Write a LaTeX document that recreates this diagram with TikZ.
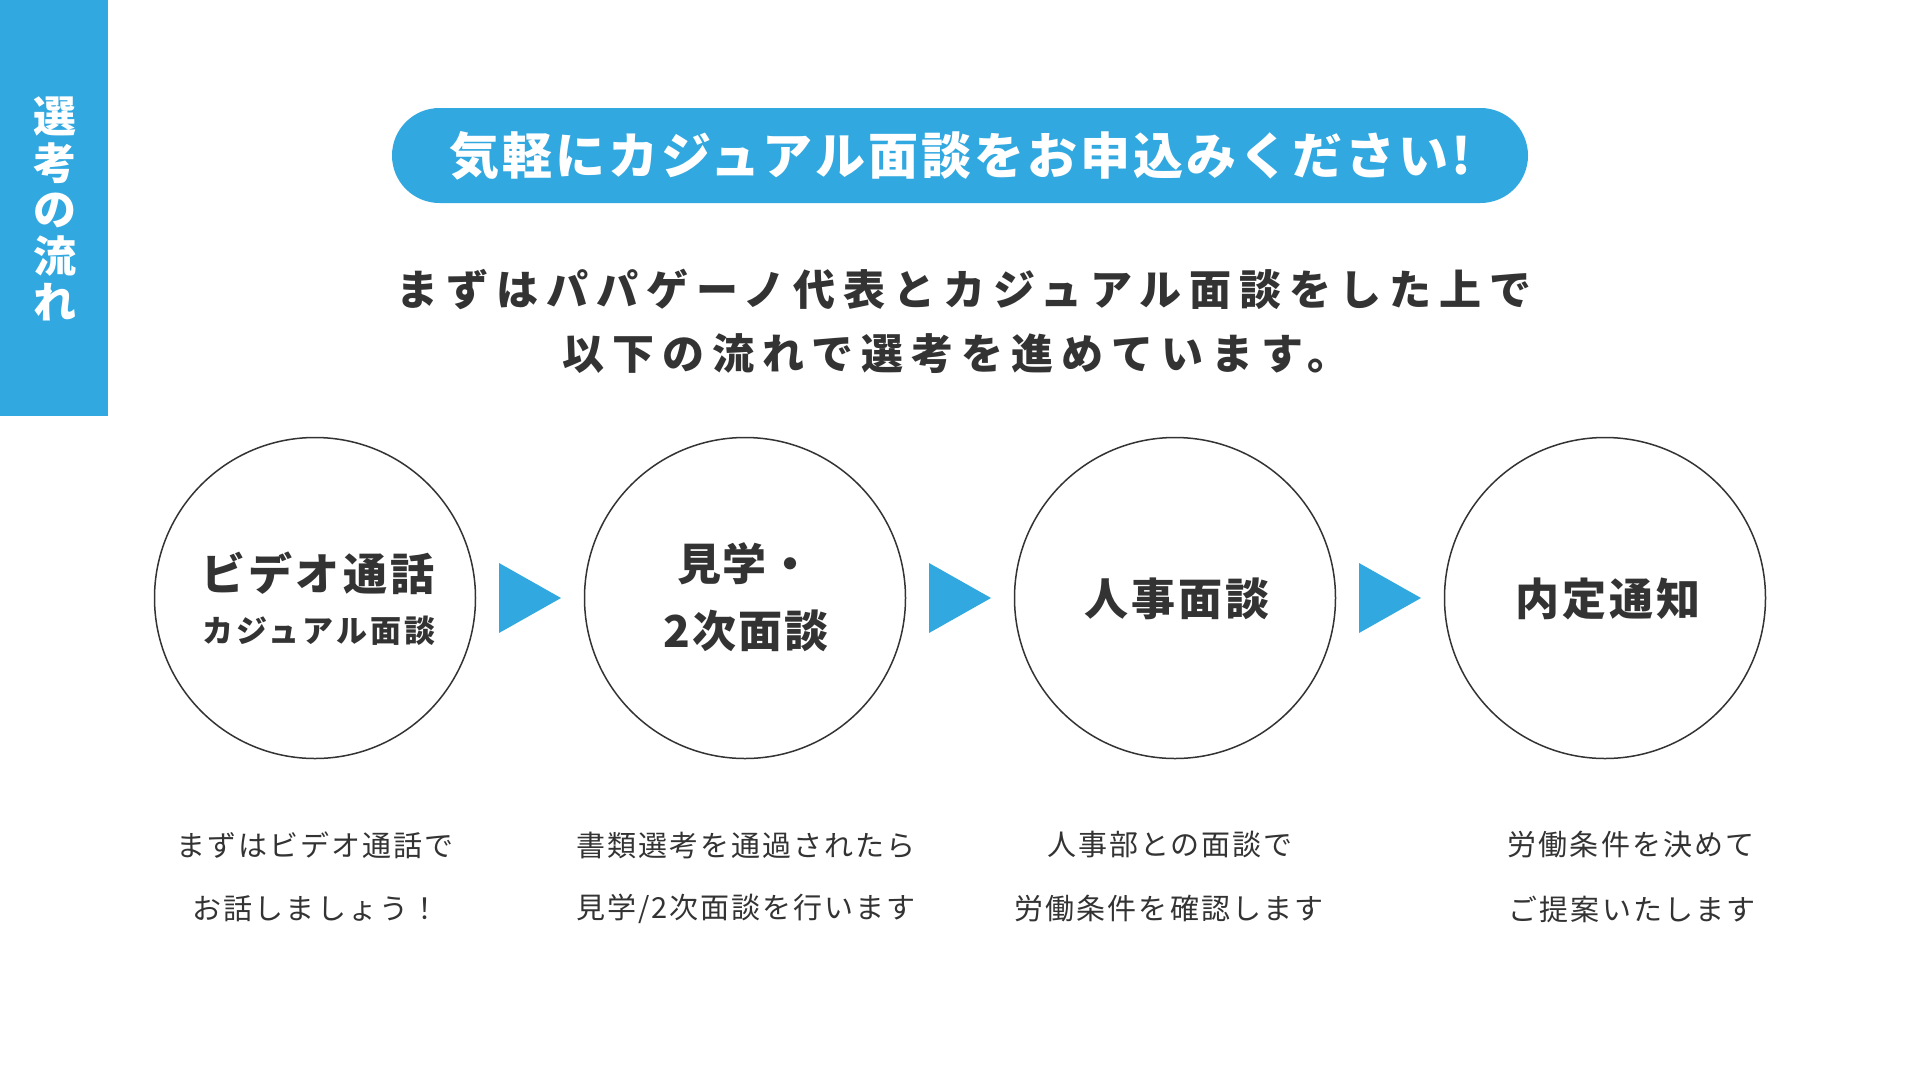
\documentclass[tikz,border=0pt]{standalone}
\usepackage{fontspec}
\setmainfont{Noto Sans CJK JP}
\newfontfamily\jpTitle[LetterSpace=6]{Noto Sans CJK JP}
\newfontfamily\jpSub[LetterSpace=19]{Noto Sans CJK JP}
\newfontfamily\jpCircA[LetterSpace=7]{Noto Sans CJK JP}
\newfontfamily\jpCircS[LetterSpace=10]{Noto Sans CJK JP}
\newfontfamily\jpCircB[LetterSpace=4]{Noto Sans CJK JP}
\newfontfamily\jpBody[LetterSpace=7]{Noto Sans CJK JP}
\definecolor{brand}{HTML}{31A8E0}
\definecolor{ink}{HTML}{333333}
\tikzset{
  x=1pt, y=-1pt,
  stepcircle/.style={circle, draw=ink, line width=1.5pt, minimum size=321pt, inner sep=0pt, align=center, text=ink},
  steplabel/.style={text=ink, inner sep=0pt, font=\jpCircA\bfseries\fontsize{44}{46}\selectfont},
  flowtri/.style={fill=brand, draw=none},
  bodytext/.style={text=ink, inner sep=0pt, anchor=center, font=\jpBody\fontsize{29}{32}\selectfont},
  subtext/.style={text=ink, inner sep=0pt, anchor=center, font=\jpSub\bfseries\fontsize{42}{45}\selectfont},
}
\begin{document}
\begin{tikzpicture}
\useasboundingbox (0,0) rectangle (1920,1080);
\fill[white] (0,0) rectangle (1920,1080);
% side bar
\fill[brand] (0,0) rectangle (108,416);
\node[text=white, align=center, inner sep=0pt, font=\bfseries\fontsize{43}{46.4}\selectfont] (bar) at (55,209) {選\\考\\の\\流\\れ};
% title pill
\fill[brand, rounded corners=47.5pt] (392,108) rectangle (1528,203);
\node[text=white, inner sep=0pt, font=\jpTitle\bfseries\fontsize{50}{54}\selectfont] (title) at (960,156) {気軽にカジュアル面談をお申込みください!};
% subtitle
\node[subtext] (sub1) at (964,289) {まずはパパゲーノ代表とカジュアル面談をした上で};
\node[subtext] (sub2) at (956,354) {以下の流れで選考を進めています。};
% circles
\node[stepcircle] (c1) at (315,598) {};
\node[steplabel] (c1a) at (318,573) {ビデオ通話};
\node[text=ink, inner sep=0pt, font=\jpCircS\bfseries\fontsize{31}{33}\selectfont] (c1b) at (319,631) {カジュアル面談};
\node[stepcircle] (c2) at (745,598) {};
\node[text=ink, inner sep=0pt, font=\jpCircB\bfseries\fontsize{44}{46}\selectfont] (c2a) at (745,564) {見学・};
\node[text=ink, inner sep=0pt, font=\jpCircB\bfseries\fontsize{44}{46}\selectfont] (c2b) at (746,631) {2次面談};
\node[stepcircle] (c3) at (1175,598) {};
\node[steplabel] (c3a) at (1177,599) {人事面談};
\node[stepcircle] (c4) at (1605,598) {};
\node[steplabel] (c4a) at (1608,599) {内定通知};
% arrows
\coordinate (t1) at (530,598);
\coordinate (t2) at (960,598);
\coordinate (t3) at (1390,598);
\foreach \t in {t1,t2,t3}{
  \fill[flowtri] ([xshift=-31pt,yshift=35pt]\t) -- ([xshift=31pt]\t) -- ([xshift=-31pt,yshift=-35pt]\t) -- cycle;
}
% body texts
\node[bodytext] (b1a) at (315,845) {まずはビデオ通話で};
\node[bodytext] (b1b) at (316,909) {お話しましょう！};
\node[bodytext] (b2a) at (746,845) {書類選考を通過されたら};
\node[bodytext] (b2b) at (746,909) {見学/2次面談を行います};
\node[bodytext] (b3a) at (1170,845) {人事部との面談で};
\node[bodytext] (b3b) at (1169,909) {労働条件を確認します};
\node[bodytext] (b4a) at (1631,845) {労働条件を決めて};
\node[bodytext] (b4b) at (1632,909) {ご提案いたします};
\end{tikzpicture}
\end{document}
